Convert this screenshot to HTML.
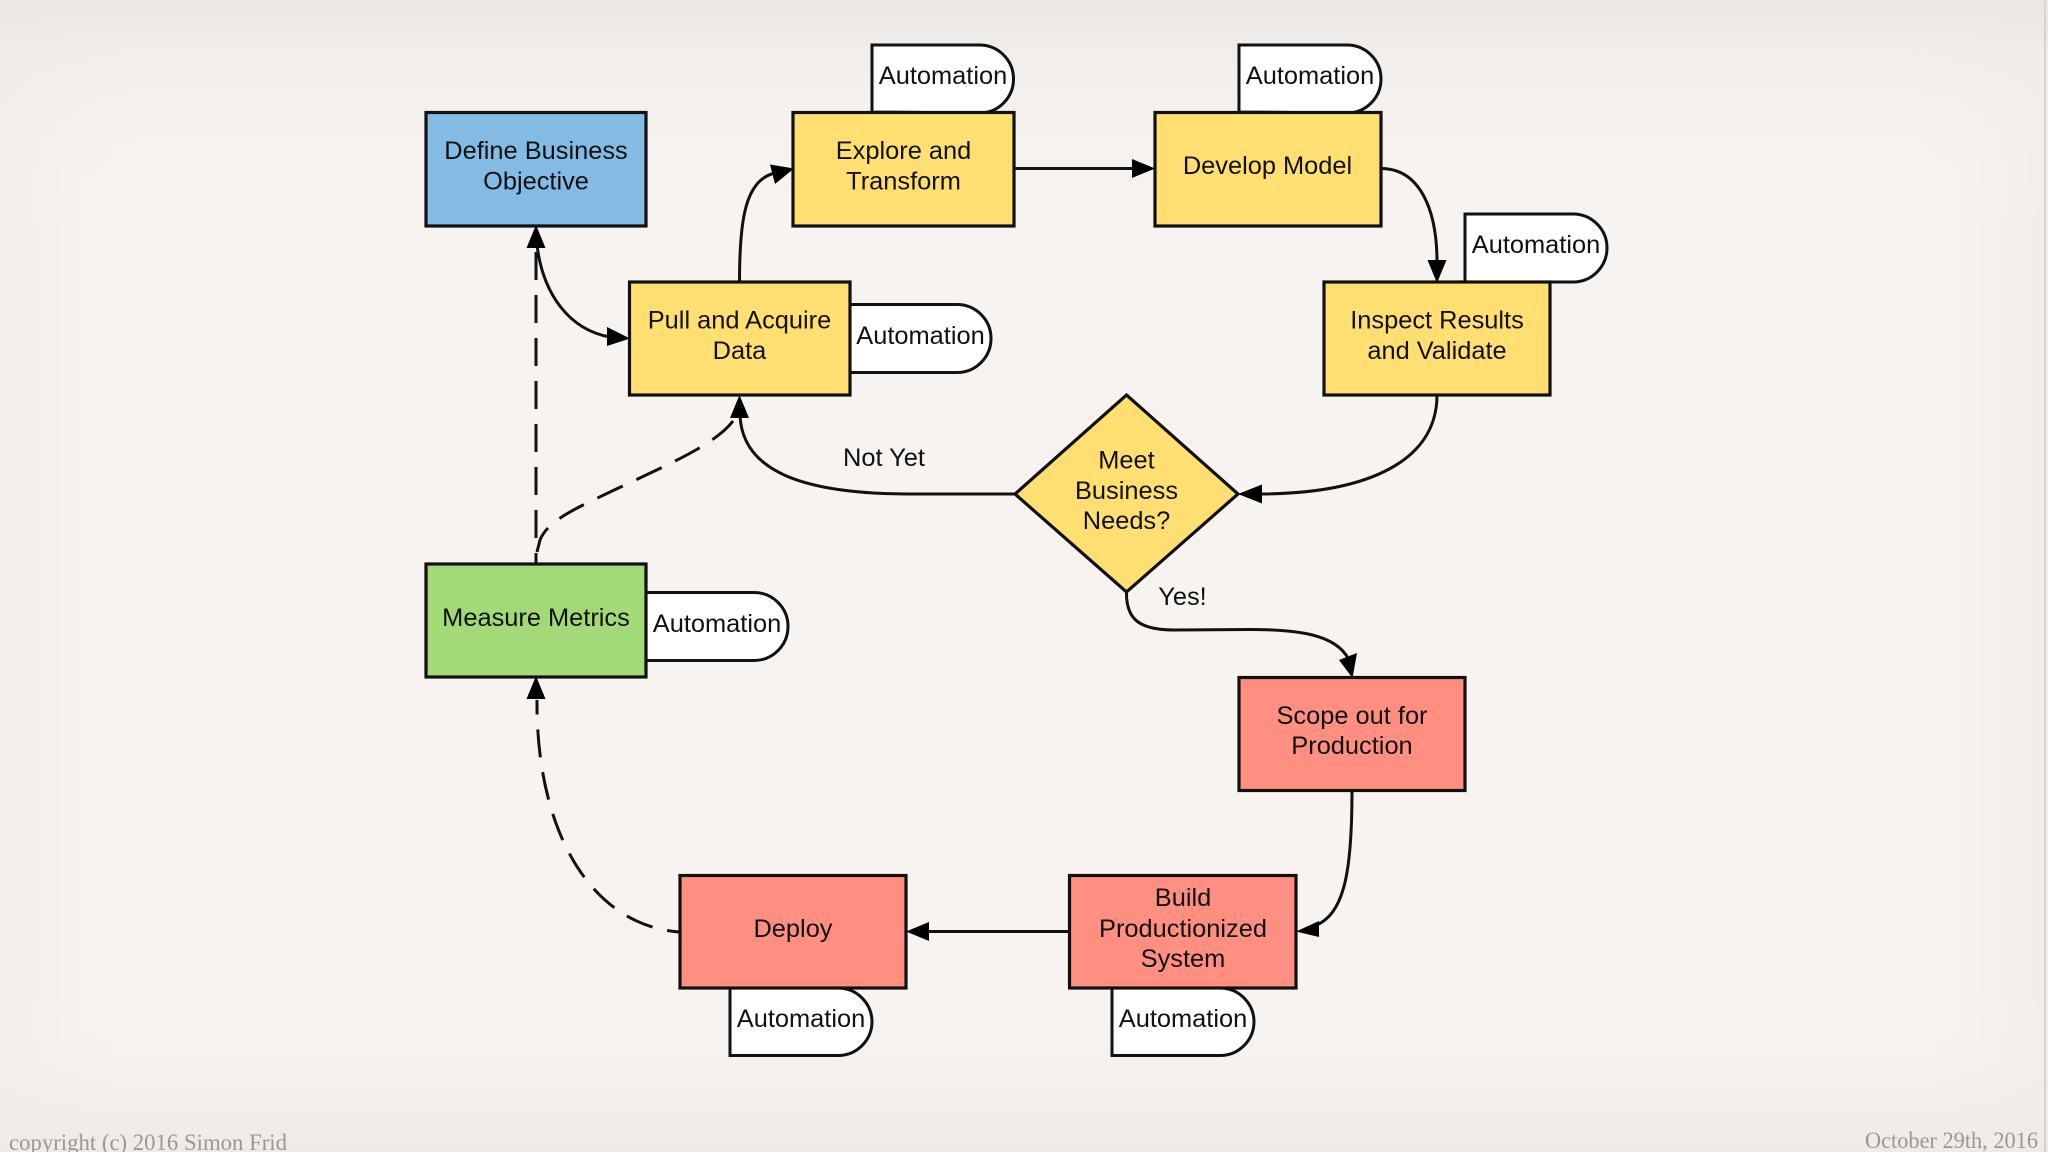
<!DOCTYPE html>
<html>
<head>
<meta charset="utf-8">
<style>
html,body{margin:0;padding:0;width:2048px;height:1152px;overflow:hidden;background:#f6f2ef}
svg{display:block}
text{font-family:"Liberation Sans",sans-serif;font-size:25.4px;fill:#111;text-anchor:middle}
.s{font-family:"Liberation Serif",serif;font-size:23px;fill:#9a9896;text-anchor:start}
.b{stroke:#111;stroke-width:3.2;stroke-linejoin:miter}
.c{fill:none;stroke:#111;stroke-width:3}
.d{fill:none;stroke:#111;stroke-width:3;stroke-dasharray:28 15}
.a{fill:#000;stroke:none}
.w{fill:#fff;stroke:#111;stroke-width:3}
</style>
</head>
<body>
<svg width="2048" height="1152" viewBox="0 0 2048 1152" xmlns="http://www.w3.org/2000/svg">
<defs>
<linearGradient id="t" x1="0" y1="0" x2="0" y2="1">
<stop offset="0" stop-color="#e9e6e4"/>
<stop offset="0.05" stop-color="#efecea" stop-opacity="0.8"/>
<stop offset="0.2" stop-color="#f7f3f0" stop-opacity="0"/>
<stop offset="0.86" stop-color="#f7f3f0" stop-opacity="0"/>
<stop offset="1" stop-color="#efe9e8"/>
</linearGradient>
<linearGradient id="l" x1="0" y1="0" x2="1" y2="0">
<stop offset="0" stop-color="#f1ede8"/>
<stop offset="0.08" stop-color="#f7f3f0" stop-opacity="0"/>
<stop offset="0.92" stop-color="#f7f3f0" stop-opacity="0"/>
<stop offset="1" stop-color="#f0ecea"/>
</linearGradient>
</defs>
<rect width="2048" height="1152" fill="#f7f3f0"/>
<rect width="2048" height="1152" fill="url(#l)"/>
<rect width="2048" height="1152" fill="url(#t)"/>
<rect x="2044" y="0" width="2" height="1152" fill="#d6d3d1"/>

<!-- automation tabs -->
<path class="w" d="M872 112V45H979.500A34 34 0 0 1 1013.500 79A34 34 0 0 1 979.500 113Z"/>
<path class="w" d="M1239 112V45H1347A34 34 0 0 1 1381 79A34 34 0 0 1 1347 113Z"/>
<path class="w" d="M1465 282V214H1573A34 34 0 0 1 1607 248A34 34 0 0 1 1573 282Z"/>
<path class="w" d="M850 304.500H957A34 34 0 0 1 991 338.500A34 34 0 0 1 957 372.500H850Z"/>
<path class="w" d="M646 592.500H754A34 34 0 0 1 788 626.500A34 34 0 0 1 754 660.500H646Z"/>
<path class="w" d="M730 988V1055.500H838A34 34 0 0 0 872 1021.500A34 34 0 0 0 838 988Z"/>
<path class="w" d="M1112 988V1055.500H1220A34 34 0 0 0 1254 1021.500A34 34 0 0 0 1220 988Z"/>

<!-- connectors -->
<path class="c" d="M537 245C543 295 570 330 610 337"/>
<path class="a" d="M630 338.500L607 327L607 346Z"/>
<path class="a" d="M536 225L526.500 248H545.500Z"/>
<path class="c" d="M739.500 282C739.500 220 745 180 775 173"/>
<path class="a" d="M794 168.500L770 164.500L775 184Z"/>
<path class="c" d="M1014 168.500H1134"/>
<path class="a" d="M1155 168.500L1132 159V178Z"/>
<path class="c" d="M1381 168.500C1420 168.500 1437 210 1437 262"/>
<path class="a" d="M1437 283L1427.500 260H1446.500Z"/>
<path class="c" d="M1437 395C1437 460 1370 494 1258 494"/>
<path class="a" d="M1238 494L1262 484.500V503.500Z"/>
<path class="c" d="M1014 494H910C800 494 742 470 740 415"/>
<path class="a" d="M739.500 395L730 418H749Z"/>
<path class="c" d="M1126.500 592C1126 620 1140 630 1175 630L1250 629.500C1300 629.500 1335 635 1348 658"/>
<path class="a" d="M1352.500 678L1357 653L1339 660Z"/>
<path class="c" d="M1352 790C1352 870 1345 915 1314 926"/>
<path class="a" d="M1296 931.500L1319 921V937Z"/>
<path class="c" d="M1069 931.500H926"/>
<path class="a" d="M906 931.500L929 922V941Z"/>
<path class="d" d="M536 252V563"/>
<path class="d" d="M733 421C715 445 665 466 610 492C577 508 548 520 540 540L537 552"/>
<path class="d" style="stroke-dashoffset:16" d="M679 932C590 925 536 830 537 700"/>
<path class="a" d="M536 676L526.500 699H545.500Z"/>

<!-- boxes -->
<rect class="b" x="426" y="112.500" width="220" height="113.500" fill="#83bbe5"/>
<rect class="b" x="793" y="112.500" width="221" height="113.500" fill="#ffdf71"/>
<rect class="b" x="1155" y="112.500" width="226" height="113.500" fill="#ffdf71"/>
<rect class="b" x="629.500" y="282" width="220.500" height="113" fill="#ffdf71"/>
<rect class="b" x="1324" y="282" width="226" height="113" fill="#ffdf71"/>
<rect class="b" x="426" y="564" width="220" height="113" fill="#a3d977"/>
<rect class="b" x="1239" y="677.500" width="226" height="113" fill="#ff8f80"/>
<rect class="b" x="1069.500" y="875.500" width="226.500" height="112.500" fill="#ff8f80"/>
<rect class="b" x="680" y="875.500" width="226" height="112.500" fill="#ff8f80"/>
<path class="b" d="M1126.500 395L1238 494L1126.500 592L1015 494Z" fill="#ffdf71"/>

<!-- labels -->
<text x="536" y="159">Define Business</text>
<text x="536" y="189.500">Objective</text>
<text x="903.500" y="159">Explore and</text>
<text x="903.500" y="189.500">Transform</text>
<text x="1267.500" y="174">Develop Model</text>
<text x="739.500" y="328.500">Pull and Acquire</text>
<text x="739.500" y="359">Data</text>
<text x="1437" y="328.500">Inspect Results</text>
<text x="1437" y="359">and Validate</text>
<text x="536" y="626">Measure Metrics</text>
<text x="1126.500" y="468.500">Meet</text>
<text x="1126.500" y="499">Business</text>
<text x="1126.500" y="529">Needs?</text>
<text x="884" y="466">Not Yet</text>
<text x="1182.500" y="605">Yes!</text>
<text x="1352" y="724">Scope out for</text>
<text x="1352" y="754">Production</text>
<text x="793" y="937">Deploy</text>
<text x="1183" y="906">Build</text>
<text x="1183" y="937">Productionized</text>
<text x="1183" y="967">System</text>
<text x="943" y="84">Automation</text>
<text x="1310" y="84">Automation</text>
<text x="1536" y="253">Automation</text>
<text x="920.500" y="344">Automation</text>
<text x="717" y="632">Automation</text>
<text x="801" y="1027">Automation</text>
<text x="1183" y="1027">Automation</text>

<text class="s" x="9" y="1150" textLength="278" lengthAdjust="spacingAndGlyphs">copyright (c) 2016 Simon Frid</text>
<text class="s" x="1865" y="1148" textLength="173" lengthAdjust="spacingAndGlyphs">October 29th, 2016</text>
</svg>
</body>
</html>
